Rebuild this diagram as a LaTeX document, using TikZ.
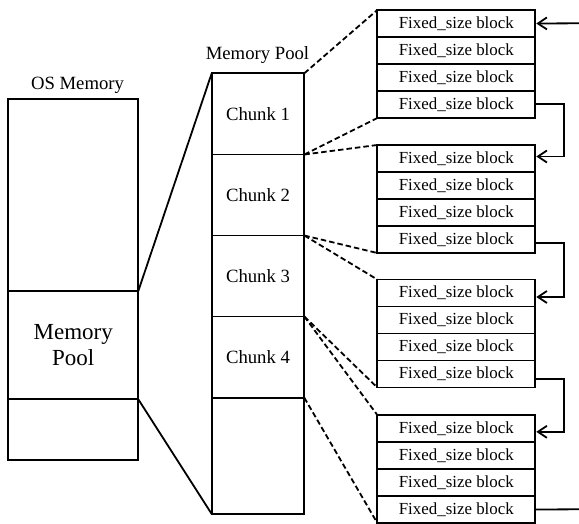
\documentclass[tikz,border=0pt]{standalone}
\usepackage{fontspec}
\setmainfont{Liberation Serif}
\usetikzlibrary{arrows.meta}
\begin{document}
\begin{tikzpicture}[x=1pt,y=-1pt,
  box/.style={draw, line width=1.8pt, inner sep=0pt, outer sep=0pt, anchor=north west},
  osbox/.style={box, minimum width=130pt},
  chunkbox/.style={box, minimum width=92.6pt, font=\fontsize{18.7}{22}\selectfont},
  blockbox/.style={box, minimum width=158pt, minimum height=27pt, font=\fontsize{16.9}{20}\selectfont},
  caption/.style={font=\fontsize{18.7}{22}\selectfont, anchor=base, inner sep=0pt},
  wire/.style={line width=1.8pt},
  dashwire/.style={line width=1.8pt, dash pattern=on 5.5pt off 3pt},
  link/.style={line width=1.8pt, -{Straight Barb[length=9pt,width=12pt,line width=1.8pt]}, shorten >=1pt}
]
\useasboundingbox (0,0) rectangle (579,524);

% OS memory column
\node[caption] (oslabel) at (77.5,89.3) {OS Memory};
\node[osbox, minimum height=191.7pt] (os1) at (8.3,99.3) {};
\node[osbox, minimum height=108.3pt, align=center, font=\fontsize{23}{26}\selectfont] (os2) at (8.3,291) {Memory\\Pool};
\node[osbox, minimum height=60.7pt] (os3) at (8.3,399.3) {};

% memory pool split into chunks
\node[caption] (poollabel) at (257.5,60) {Memory Pool};
\node[chunkbox, minimum height=81.2pt] (c1) at (211.7,73.3) {Chunk 1};
\node[chunkbox, minimum height=81pt] (c2) at (211.7,154.5) {Chunk 2};
\node[chunkbox, minimum height=81pt] (c3) at (211.7,235.5) {Chunk 3};
\node[chunkbox, minimum height=81.2pt] (c4) at (211.7,316.5) {Chunk 4};
\node[chunkbox, minimum height=116.3pt] (c5) at (211.7,397.7) {};

% fixed size blocks, four per chunk
\foreach \g/\top in {1/10,2/145,3/279.5,4/415}{
  \foreach \r in {1,...,4}{
    \node[blockbox] (b\g\r) at (377.3,{\top+27*(\r-1)}) {Fixed\_size block};
  }
}

% zoom lines from the OS memory to the pool
\draw[wire] (os2.north east) -- (c1.north west);
\draw[wire] (os2.south east) -- (c5.south west);

% zoom lines from each chunk to its blocks
\draw[dashwire] (c1.north east) -- (b11.north west);
\draw[dashwire] (c1.south east) -- (b14.south west);
\draw[dashwire] (c1.south east) -- (b21.north west);
\draw[dashwire] (c2.south east) -- (b24.south west);
\draw[dashwire] (c2.south east) -- (b31.north west);
\draw[dashwire] (c3.south east) -- (b34.south west);
\draw[dashwire] (c3.south east) -- (b41.north west);
\draw[dashwire] (c4.south east) -- (b44.south west);

% free list links
\coordinate (headin) at (579,23.3);
\coordinate (tailout) at (579,509.3);
\draw[link] (headin) -- (b11.east);
\draw[link] ([yshift=0.2pt]b14.east) -- ++(28.7,0) |- ([yshift=2pt]b21.east);
\draw[link] ([yshift=-3.5pt]b24.east) -- ++(28.7,0) |- ([yshift=-4pt]b31.east);
\draw[link] ([yshift=-5pt]b34.east) -- ++(28.7,0) |- ([yshift=-3.3pt]b41.east);
\draw[wire] (b44.east) -- (tailout);
\end{tikzpicture}
\end{document}
